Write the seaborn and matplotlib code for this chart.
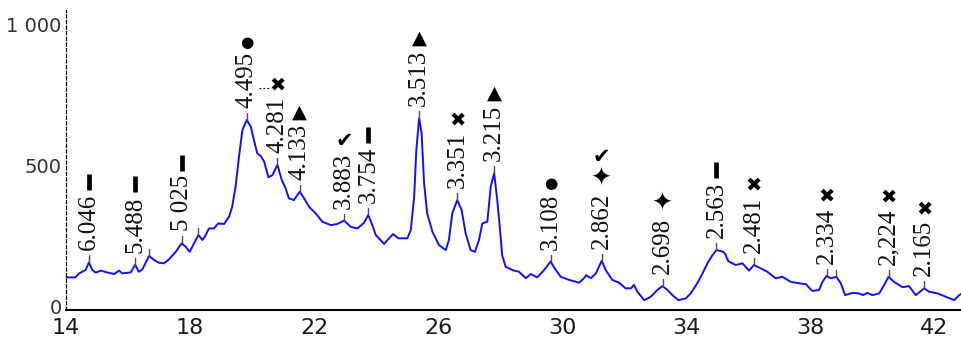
import numpy as np
import pandas as pd
import matplotlib
matplotlib.use("Agg")
import matplotlib.pyplot as plt
import seaborn as sns

# diffractogram (2-theta, counts)
two_theta = [14.00, 14.31, 14.42, 14.63, 14.74, 14.85, 14.96, 15.12, 15.28, 15.55,
             15.71, 15.82, 16.09, 16.23, 16.35, 16.46, 16.68, 16.84, 17.00, 17.16,
             17.32, 17.54, 17.73, 17.86, 17.99, 18.13, 18.27, 18.40, 18.48, 18.61,
             18.77, 18.91, 19.10, 19.26, 19.36, 19.47, 19.58, 19.69, 19.83, 19.96,
             20.06, 20.17, 20.28, 20.39, 20.53, 20.66, 20.82, 20.96, 21.08, 21.19,
             21.35, 21.54, 21.68, 21.84, 22.05, 22.27, 22.54, 22.75, 22.97, 23.18,
             23.40, 23.61, 23.75, 23.88, 23.99, 24.26, 24.42, 24.55, 24.72, 25.01,
             25.12, 25.23, 25.30, 25.39, 25.47, 25.55, 25.65, 25.82, 26.03, 26.25,
             26.35, 26.46, 26.62, 26.76, 26.89, 27.05, 27.19, 27.32, 27.43, 27.59,
             27.70, 27.81, 27.91, 28.00, 28.07, 28.18, 28.40, 28.61, 28.83, 28.99,
             29.20, 29.42, 29.63, 29.80, 29.96, 30.23, 30.55, 30.71, 30.78, 30.93,
             31.09, 31.28, 31.41, 31.62, 31.84, 32.05, 32.22, 32.32, 32.43, 32.65,
             32.86, 33.07, 33.24, 33.40, 33.56, 33.75, 33.99, 34.15, 34.36, 34.53,
             34.69, 34.85, 34.98, 35.15, 35.25, 35.36, 35.60, 35.82, 36.03, 36.19,
             36.41, 36.62, 36.89, 37.11, 37.38, 37.65, 37.86, 38.07, 38.29, 38.40,
             38.53, 38.67, 38.85, 38.99, 39.13, 39.36, 39.58, 39.71, 39.85, 40.01,
             40.23, 40.39, 40.53, 40.71, 40.98, 41.19, 41.41, 41.68, 41.84, 42.11,
             42.38, 42.65, 42.81, 42.90]
intensity = [102, 102, 116, 128, 155, 128, 119, 126, 121, 114,
             126, 116, 120, 147, 122, 130, 178, 164, 154, 152,
             166, 193, 223, 211, 193, 223, 253, 235, 247, 276,
             276, 294, 292, 318, 353, 425, 531, 626, 662, 638,
             591, 543, 534, 514, 458, 466, 502, 448, 420, 383,
             377, 407, 383, 353, 330, 300, 288, 292, 304, 282,
             276, 296, 324, 288, 253, 221, 241, 256, 241, 241,
             270, 389, 555, 668, 615, 437, 330, 264, 217, 199,
             235, 330, 377, 342, 259, 199, 193, 235, 294, 300,
             425, 472, 377, 270, 180, 140, 128, 122, 99, 114,
             102, 128, 158, 128, 104, 93, 83, 99, 110, 99,
             116, 161, 128, 93, 83, 63, 63, 75, 51, 21,
             33, 57, 71, 57, 39, 21, 27, 45, 81, 116,
             152, 181, 199, 195, 188, 160, 146, 152, 126, 146,
             134, 122, 99, 104, 86, 81, 78, 54, 57, 86,
             107, 99, 104, 81, 39, 47, 45, 39, 47, 39,
             45, 75, 104, 86, 67, 71, 39, 63, 51, 45,
             33, 21, 39, 45]

# labelled reflections: position, d-spacing text, phase symbols (bottom to top)
peak_pos = [14.74, 16.23, 17.73, 19.83, 20.82, 21.54, 22.97, 23.75, 25.39, 26.62,
            27.81, 29.63, 31.28, 33.24, 34.98, 36.19, 38.53, 40.53, 41.68]
peak_labels = ["6.046", "5.488", "5 025", "4.495", "4.281", "4.133", "3.883", "3.754",
               "3.513", "3.351", "3.215", "3.108", "2.862", "2.698", "2.563", "2.481",
               "2.334", "2,224", "2.165"]
peak_symbols = ["|", "|", "|", "●", "✖", "▲", "✔", "|", "▲", "✖",
                "▲", "●", "✦✔", "✦", "|", "✖", "✖", "✖", "✖"]
# extra marked positions without a label
extra_ticks = [16.68, 18.27, 38.85]

sym_size = {"●": 11, "✖": 14, "▲": 14, "✔": 15, "✦": 18}

sns.set_theme(style="white")
plt.rcParams["font.family"] = ["DejaVu Sans"]

fig = plt.figure(figsize=(9.62, 3.45), dpi=100)
ax = fig.add_axes([66 / 962, 35 / 345, 896 / 962, 300 / 345])

df = pd.DataFrame({"two_theta": two_theta, "intensity": intensity})
sns.lineplot(data=df, x="two_theta", y="intensity", color="#1010ff",
             linewidth=1.4, ax=ax)

ax.set_xlim(14, 42.9)
ax.set_ylim(-14, 1053)
ax.set_xlabel("")
ax.set_ylabel("")

ax.set_xticks(np.arange(14, 43, 4))
ax.set_xticks(np.arange(14, 43, 2), minor=True)
ax.set_yticks([0, 500, 1000])
ax.set_yticklabels(["0", "500", "1 000"])
ax.tick_params(axis="x", which="both", colors="#999999", length=4, width=1,
               labelsize=16, labelcolor="#1a1a1a", pad=2)
ax.tick_params(axis="y", length=0, labelsize=14, labelcolor="#333333", pad=3)

for side in ["top", "right"]:
    ax.spines[side].set_visible(False)
ax.spines["left"].set_linestyle((0, (2.5, 2)))
ax.spines["left"].set_linewidth(0.9)
ax.spines["left"].set_color("black")
ax.spines["bottom"].set_linewidth(1.5)
ax.spines["bottom"].set_color("black")

to_disp = ax.transData.transform
to_data = ax.transData.inverted().transform


def peak_tick(x):
    y = np.interp(x, two_theta, intensity)
    px, py = to_disp((x, y))
    _, ytop = to_data((px, py + 7))
    ax.plot([x, x], [y, ytop], color="#6a3a60", linewidth=1.0)
    return y


labels = []
for x, lab in zip(peak_pos, peak_labels):
    y = peak_tick(x)
    t = ax.annotate(lab, xy=(x, y), xytext=(0, 12), textcoords="offset pixels",
                    rotation=90, ha="center", va="bottom", fontsize=18,
                    family=["Liberation Serif", "DejaVu Serif"], color="#111111")
    labels.append(t)
for x in extra_ticks:
    peak_tick(x)

fig.canvas.draw()
renderer = fig.canvas.get_renderer()
sym_texts = []
for t, syms in zip(labels, peak_symbols):
    bb = t.get_window_extent(renderer)
    cx = (bb.x0 + bb.x1) / 2
    base = bb.y1 + 2
    first = None
    for s in syms:
        if s == "|":
            xd, yd = to_data((cx, base + 10))
            ax.plot([xd], [yd], marker="|", markersize=11, mew=3.4, color="black")
            base += 22
        else:
            xd, yd = to_data((cx, base))
            st = ax.text(xd, yd, s, ha="center", va="bottom", fontsize=sym_size[s],
                         family=["DejaVu Sans"], color="black")
            first = first or st
            base += 24
    sym_texts.append(first)

# dotted leader from the 4.495 label towards the cross of 4.281
fig.canvas.draw()
lead = labels[3].get_window_extent(renderer)
cross = sym_texts[4].get_window_extent(renderer)
ly = (cross.y0 + cross.y1) / 2 - 3
x0, y0 = to_data((lead.x1 + 1, ly))
x1, _ = to_data((cross.x0 + 1, ly))
ax.plot([x0, x1], [y0, y0], color="black", linewidth=0.8, linestyle=(0, (1.5, 2)))

fig.savefig("out.png", dpi=100)
plt.close(fig)
